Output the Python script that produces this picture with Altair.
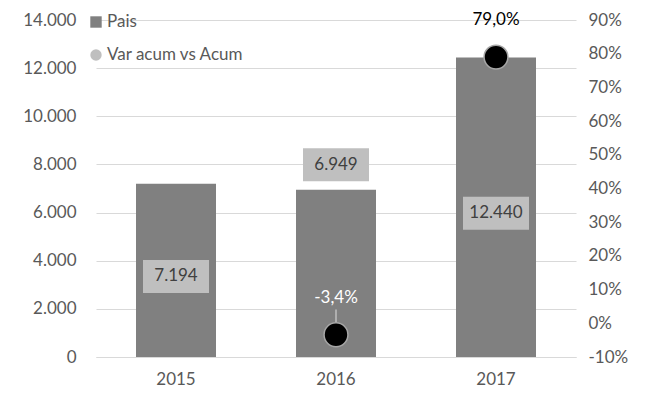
import altair as alt
import pandas as pd

years = ["2015", "2016", "2017"]
pais = [7194, 6949, 12440]
var_acum = [None, -0.034, 0.79]
pct_text_color = ["white", "white", "black"]

legend_labels = ["Pais", "Var acum vs Acum"]
legend_colors = ["#808080", "#bfbfbf"]
legend_shapes = ["square", "circle"]

FONT = "Lato"
FS = 17
TXT = "#595959"

df = pd.DataFrame({"year": years, "pais": pais, "var": var_acum, "tc": pct_text_color})

x_enc = alt.X("year:N", title=None,
              scale=alt.Scale(paddingInner=0.5, paddingOuter=0.25),
              axis=alt.Axis(labelAngle=0, ticks=False, domainColor="#d9d9d9",
                            labelColor=TXT, labelFont=FONT, labelFontSize=FS,
                            labelPadding=14))

left_axis = alt.Axis(title=None, domain=False, ticks=False, grid=True, gridColor="#d9d9d9",
                     values=list(range(0, 14001, 2000)), labelPadding=20,
                     labelColor=TXT, labelFont=FONT, labelFontSize=FS,
                     labelExpr="replace(format(datum.value, ','), ',', '.')")
left_scale = alt.Scale(domain=[0, 14000], nice=False)

right_axis = alt.Axis(title=None, domain=False, ticks=False, grid=False, orient="right",
                      values=[i / 10 for i in range(-1, 10)], labelPadding=12,
                      labelColor=TXT, labelFont=FONT, labelFontSize=FS,
                      labelExpr="replace(replace(format(datum.value, '.0%'), '.', ','), '\u2212', '-')")
right_scale = alt.Scale(domain=[-0.1, 0.9], nice=False)

base = alt.Chart(df)

bars = base.mark_bar(color="#808080").encode(
    x=x_enc, y=alt.Y("pais:Q", scale=left_scale, axis=left_axis))

lab = base.transform_calculate(
    ly="datum.year == '2016' ? datum.pais + 1040 : datum.pais / 2 - 250",
    lt="replace(format(datum.pais, ','), ',', '.')")

boxes = lab.mark_point(shape="M-1,-0.5H1V0.5H-1Z", filled=True, opacity=1,
                       color="#bfbfbf", size=66 * 66).encode(
    x=x_enc, y=alt.Y("ly:Q", scale=left_scale, axis=left_axis))

bar_text = lab.mark_text(font=FONT, fontSize=FS, color="#404040", baseline="middle").encode(
    x=x_enc, y=alt.Y("ly:Q", scale=left_scale, axis=left_axis), text="lt:N")

pts_data = base.transform_filter("isValid(datum.var)").transform_calculate(
    pt="replace(replace(format(datum.var, '.1%'), '.', ','), '\u2212', '-')",
    lead="datum.var + 0.075")

leader = pts_data.transform_filter("datum.year == '2016'").mark_rule(
    color="#bfbfbf", strokeWidth=1.5).encode(
    x=x_enc, y=alt.Y("var:Q", scale=right_scale, axis=right_axis), y2="lead:Q")

points = pts_data.mark_point(shape="circle", filled=True, fill="black", stroke="#a6a6a6",
                             strokeWidth=1.5, size=570, opacity=1).encode(
    x=x_enc, y=alt.Y("var:Q", scale=right_scale, axis=right_axis))

pct_text = pts_data.mark_text(font=FONT, fontSize=FS, baseline="middle", dy=-37).encode(
    x=x_enc, y=alt.Y("var:Q", scale=right_scale, axis=right_axis), text="pt:N",
    color=alt.Color("tc:N", scale=None))

leg_df = pd.DataFrame({"label": legend_labels, "color": legend_colors,
                       "shape": legend_shapes, "idx": [0, 1]})
leg = alt.Chart(leg_df).transform_calculate(py="2 + datum.idx * 33")
leg_sym = leg.mark_point(filled=True, opacity=1, size=130).encode(
    x=alt.value(0), y=alt.Y("py:Q", scale=None),
    color=alt.Color("color:N", scale=None), shape=alt.Shape("shape:N", scale=None))
leg_txt = leg.mark_text(font=FONT, fontSize=FS, color=TXT, align="left", baseline="middle").encode(
    x=alt.value(11), y=alt.Y("py:Q", scale=None), text="label:N")

left = alt.layer(bars, boxes, bar_text)
right = alt.layer(leader, points, pct_text)

chart = alt.layer(left, right, leg_sym, leg_txt).resolve_scale(y="independent").properties(
    width=480, height=337, padding={"left": 14, "top": 3, "right": 5, "bottom": 5}
).configure_view(stroke=None)

chart.save("out.html", embed_options={"renderer": "svg", "actions": False})
